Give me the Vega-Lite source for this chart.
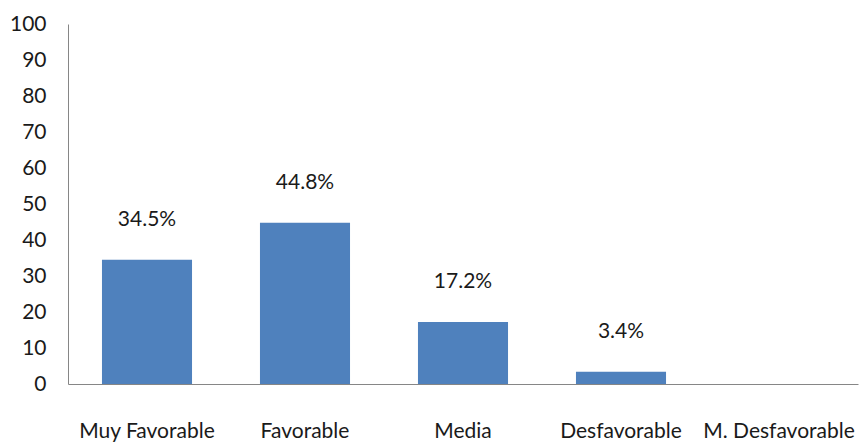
{
  "$schema": "https://vega.github.io/schema/vega-lite/v6.json",
  "width": 790,
  "height": 360,
  "autosize": {"type": "none"},
  "padding": {"left": 68, "top": 24, "right": 2, "bottom": 61},
  "background": "white",
  "config": {"view": {"stroke": null}, "font": "Lato"},
  "data": {"values": [
    {"cat": "Muy Favorable", "value": 34.5, "label": "34.5%"},
    {"cat": "Favorable", "value": 44.8, "label": "44.8%"},
    {"cat": "Media", "value": 17.2, "label": "17.2%"},
    {"cat": "Desfavorable", "value": 3.4, "label": "3.4%"},
    {"cat": "M. Desfavorable", "value": 0, "label": ""}
  ]},
  "encoding": {
    "x": {"field": "cat", "type": "nominal", "sort": null,
      "scale": {"paddingInner": 0.43, "paddingOuter": 0.215},
      "axis": {"title": null, "labelAngle": 0, "ticks": false, "labelPadding": 36,
        "labelFontSize": 21, "labelColor": "#1a1a1a", "domainColor": "#868686", "labelFont": "Lato"}},
    "y": {"field": "value", "type": "quantitative",
      "scale": {"domain": [0, 100], "nice": false},
      "axis": {"title": null, "values": [0,10,20,30,40,50,60,70,80,90,100], "grid": false, "ticks": false,
        "labelPadding": 22, "labelFontSize": 21, "labelColor": "#1a1a1a", "domainColor": "#868686", "labelFont": "Lato"}}
  },
  "layer": [
    {"mark": {"type": "bar", "color": "#4F81BD"}},
    {"mark": {"type": "text", "dy": -40, "fontSize": 21, "color": "#1a1a1a", "font": "Lato"},
      "encoding": {"text": {"field": "label"}}}
  ]
}
